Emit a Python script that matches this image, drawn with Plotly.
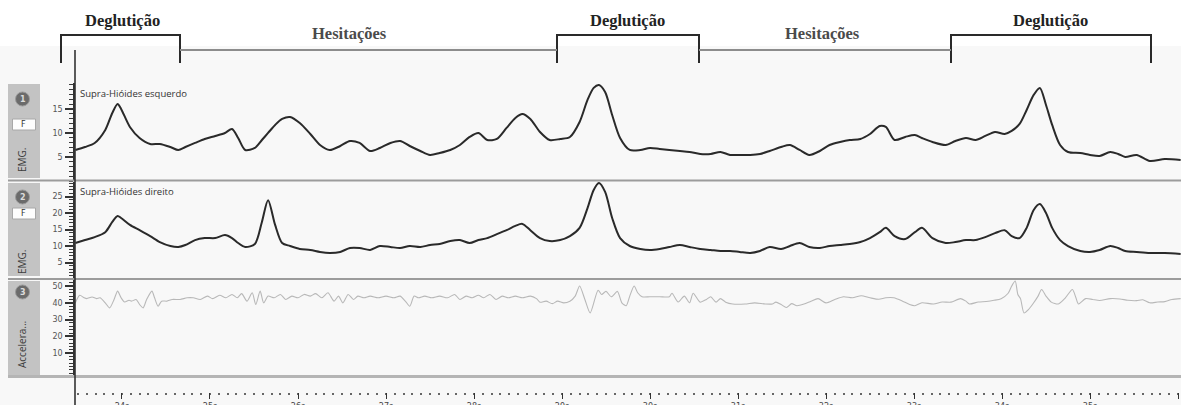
import plotly.graph_objects as go

# ---- data -------------------------------------------------------------
# time base shared by both EMG channels (seconds)
t_emg = [
    23.47, 23.58, 23.69, 23.81, 23.89, 23.95, 23.99, 24.09, 24.20, 24.32,
    24.43, 24.55, 24.64, 24.72, 24.83, 24.94, 25.06, 25.17, 25.25, 25.32,
    25.40, 25.51, 25.59, 25.66, 25.74, 25.82, 25.91, 26.02, 26.14, 26.25,
    26.36, 26.48, 26.59, 26.70, 26.82, 26.93, 27.05, 27.16, 27.27, 27.39,
    27.50, 27.61, 27.73, 27.84, 27.95, 28.05, 28.15, 28.26, 28.37, 28.47,
    28.55, 28.64, 28.75, 28.86, 28.98, 29.09, 29.20, 29.29, 29.36, 29.42,
    29.49, 29.57, 29.66, 29.77, 29.89, 30.00, 30.11, 30.22, 30.34, 30.45,
    30.57, 30.69, 30.80, 30.91, 31.02, 31.14, 31.25, 31.36, 31.49, 31.59,
    31.70, 31.81, 31.93, 32.04, 32.16, 32.27, 32.39, 32.50, 32.61, 32.68,
    32.78, 32.90, 33.01, 33.09, 33.21, 33.36, 33.47, 33.59, 33.70, 33.81,
    33.92, 34.03, 34.11, 34.20, 34.28, 34.36, 34.43, 34.50, 34.57, 34.66,
    34.75, 34.89, 35.00, 35.11, 35.23, 35.32, 35.40, 35.53, 35.68, 35.85,
    36.03,
]

# Supra-Hióides esquerdo (channel 1)
emg_left = [
    6.46, 7.08, 7.92, 10.63, 14.17, 16.04, 15.0, 11.25, 8.96, 7.71,
    7.71, 7.08, 6.46, 7.08, 7.92, 8.75, 9.38, 10.0, 10.83, 8.96,
    6.46, 6.88, 8.54, 10.0, 11.67, 12.92, 13.33, 12.08, 9.79, 7.5,
    6.46, 7.29, 8.33, 7.92, 6.25, 6.88, 7.92, 8.33, 7.29, 6.25,
    5.42, 5.83, 6.46, 7.5, 9.17, 10.0, 8.54, 8.75, 11.04, 13.13,
    13.96, 12.92, 10.21, 8.54, 8.75, 9.17, 12.29, 16.88, 19.38, 20.0,
    18.54, 13.75, 8.96, 6.46, 6.46, 6.88, 6.67, 6.46, 6.25, 6.04,
    5.63, 5.63, 6.04, 5.42, 5.42, 5.42, 5.63, 6.25, 7.08, 7.5,
    6.46, 5.42, 6.25, 7.5, 8.13, 8.54, 8.75, 9.79, 11.46, 11.25,
    8.54, 9.17, 9.58, 8.96, 8.13, 7.5, 8.33, 8.96, 8.54, 9.38,
    10.21, 9.79, 10.42, 11.88, 14.79, 17.92, 19.38, 15.83, 11.67, 7.5,
    6.04, 5.83, 5.42, 5.21, 6.04, 5.63, 5.0, 5.42, 4.17, 4.58,
    4.38,
]

# Supra-Hióides direito (channel 2)
emg_right = [
    10.9, 11.8, 12.7, 14.2, 17.3, 19.1, 18.5, 16.4, 14.8, 13.0,
    11.2, 10.0, 9.7, 10.3, 11.8, 12.4, 12.4, 13.3, 12.4, 10.9,
    9.7, 10.6, 17.3, 23.9, 16.4, 10.9, 10.0, 9.1, 8.8, 8.2,
    7.9, 8.2, 9.4, 9.4, 8.8, 10.0, 9.7, 9.4, 10.0, 9.7,
    10.3, 10.6, 11.5, 11.8, 10.9, 11.8, 12.4, 13.6, 14.8, 16.1,
    16.7, 14.8, 12.4, 11.5, 11.8, 13.0, 15.5, 21.5, 27.0, 29.1,
    26.4, 18.5, 12.4, 10.0, 9.1, 8.8, 9.1, 9.7, 10.3, 9.7,
    9.1, 8.8, 8.5, 8.5, 8.2, 7.9, 8.5, 9.7, 9.1, 10.0,
    10.9, 9.7, 9.4, 10.0, 10.3, 10.6, 11.2, 12.4, 14.2, 15.5,
    13.0, 12.1, 14.2, 15.5, 12.4, 10.9, 11.2, 11.8, 11.8, 12.7,
    13.9, 14.8, 13.0, 12.4, 15.5, 20.9, 22.7, 20.0, 15.5, 11.8,
    10.0, 8.5, 8.2, 8.8, 10.0, 9.4, 8.5, 8.2, 7.9, 7.9,
    7.6,
]

# accelerometer channel (seconds, amplitude)
t_acc = [
    23.47, 23.52, 23.57, 23.60, 23.66, 23.71, 23.75, 23.81, 23.86, 23.91,
    23.95, 23.99, 24.03, 24.08, 24.11, 24.16, 24.20, 24.24, 24.28, 24.34,
    24.37, 24.41, 24.45, 24.51, 24.57, 24.66, 24.74, 24.81, 24.89, 24.97,
    25.03, 25.11, 25.18, 25.25, 25.31, 25.36, 25.42, 25.48, 25.52, 25.57,
    25.61, 25.66, 25.73, 25.80, 25.86, 25.93, 26.00, 26.07, 26.14, 26.20,
    26.27, 26.34, 26.41, 26.46, 26.51, 26.57, 26.63, 26.68, 26.75, 26.82,
    26.91, 27.00, 27.09, 27.16, 27.22, 27.27, 27.32, 27.37, 27.44, 27.52,
    27.61, 27.70, 27.78, 27.84, 27.91, 27.98, 28.05, 28.11, 28.18, 28.25,
    28.32, 28.39, 28.47, 28.55, 28.64, 28.71, 28.75, 28.82, 28.89, 28.95,
    29.02, 29.09, 29.15, 29.20, 29.26, 29.32, 29.41, 29.45, 29.50, 29.56,
    29.63, 29.68, 29.73, 29.77, 29.82, 29.86, 29.91, 30.00, 30.11, 30.22,
    30.25, 30.32, 30.39, 30.45, 30.49, 30.57, 30.64, 30.69, 30.75, 30.80,
    30.86, 30.94, 31.08, 31.19, 31.31, 31.39, 31.43, 31.49, 31.55, 31.61,
    31.67, 31.75, 31.83, 31.91, 32.00, 32.10, 32.20, 32.30, 32.40, 32.50,
    32.60, 32.68, 32.77, 32.87, 32.95, 33.01, 33.09, 33.22, 33.32, 33.42,
    33.53, 33.59, 33.63, 33.73, 33.82, 33.91, 33.99, 34.07, 34.11, 34.15,
    34.18, 34.21, 34.25, 34.30, 34.35, 34.41, 34.45, 34.50, 34.56, 34.64,
    34.72, 34.80, 34.84, 34.87, 34.95, 35.03, 35.11, 35.23, 35.34, 35.43,
    35.53, 35.60, 35.68, 35.77, 35.85, 35.93, 36.03,
]
acc = [
    40, 44.5, 43, 42.5, 43.5, 42.5, 43, 40, 37, 42,
    47, 43, 40.5, 41.5, 41, 42, 39, 37, 42, 47,
    43, 38, 41, 41, 42, 42, 43, 43, 42, 44,
    42.5, 44.5, 43, 45, 43, 45.5, 41, 46, 39, 47,
    40, 44, 43, 45, 42, 44, 43, 45, 44, 45.5,
    43, 46, 41, 44, 40, 45, 42, 44, 43, 44,
    43, 44, 43, 44, 41, 38, 44, 43, 44, 43,
    44, 43, 45, 42, 44, 43, 44.5, 43, 45, 42,
    44, 43, 44, 43, 44, 42.5, 40.4, 41, 39.5, 41,
    40, 41, 44, 50, 42, 34, 47.5, 45, 46.8, 43.6,
    46.8, 40, 38.3, 44, 50, 46, 43.6, 43.6, 43.6, 43.6,
    45.7, 40.5, 44, 40, 45.7, 40.4, 42, 43.6, 40.4, 42.5,
    40.4, 39.3, 39.3, 40, 39.3, 39.3, 40.4, 39, 37.2, 39.5,
    38.3, 39.3, 41, 42.5, 40, 42, 43.6, 43, 44.2, 43,
    42.1, 43, 43, 41, 39, 38.3, 40, 39.3, 40.5, 40.4,
    42.5, 41, 39.3, 40.5, 40.8, 41.5, 42.5, 45.7, 50, 53,
    45, 42.5, 34, 36, 39.3, 44, 47.9, 44, 40.4, 39.3,
    43, 47.9, 43, 39.3, 42.5, 42, 41.4, 42.5, 42.3, 41.5,
    41.3, 41.8, 40, 40.5, 40.7, 42, 42.5,
]

tick_seconds = list(range(24, 37))
tick_labels = [f"{s}s" for s in tick_seconds]

left_ticks = [5, 10, 15]
right_ticks = [5, 10, 15, 20, 25]
acc_ticks = [10, 20, 30, 40, 50]

channel_names = ["Supra-Hióides esquerdo", "Supra-Hióides direito"]
channel_types = ["EMG.", "EMG.", "Accelera..."]

# ---- geometry helpers (pixel -> paper) ---------------------------------
W, H = 1181, 405


def fx(x):
    return x / W


def fy(y):
    return 1 - y / H


fig = go.Figure()

fig.add_trace(go.Scatter(
    x=t_emg, y=emg_left, mode="lines", xaxis="x", yaxis="y", hoverinfo="skip",
    line=dict(color="#2a2a2a", width=2, shape="spline", smoothing=0.8)))
fig.add_trace(go.Scatter(
    x=t_emg, y=emg_right, mode="lines", xaxis="x", yaxis="y2", hoverinfo="skip",
    line=dict(color="#2a2a2a", width=2, shape="spline", smoothing=0.8)))
fig.add_trace(go.Scatter(
    x=t_acc, y=acc, mode="lines", xaxis="x", yaxis="y3", hoverinfo="skip",
    line=dict(color="#b8b8b8", width=1.1, shape="spline", smoothing=0.7)))

tick_font = dict(family="DejaVu Sans", size=8, color="#555")


def y_axis(dom_top, dom_bottom, rng, vals, minor_step):
    return dict(
        domain=[fy(dom_bottom), fy(dom_top)], range=rng,
        anchor="x", side="left", automargin=False,
        showline=True, linecolor="#333", linewidth=1.6,
        showgrid=False, zeroline=False,
        tickmode="array", tickvals=vals,
        ticks="outside", ticklen=8, tickwidth=1.5, tickcolor="#333",
        tickfont=tick_font, ticklabelstandoff=1,
        minor=dict(tickmode="linear", dtick=minor_step, tick0=0,
                   ticks="outside", ticklen=4.5, tickwidth=1.4,
                   tickcolor="#3a3a3a", showgrid=False),
        fixedrange=True,
    )


fig.update_layout(
    width=W, height=H,
    margin=dict(l=0, r=0, t=0, b=0, autoexpand=False),
    paper_bgcolor="white", plot_bgcolor="rgba(0,0,0,0)",
    showlegend=False,
    xaxis=dict(
        domain=[fx(75), 1], range=[23.466, 36.034],
        anchor="free", position=fy(392), automargin=False,
        showline=False, showgrid=False, zeroline=False,
        tickmode="array", tickvals=tick_seconds, ticktext=tick_labels,
        ticks="outside", ticklen=6, tickwidth=1.4, tickcolor="#333",
        tickfont=dict(family="DejaVu Sans", size=8, color="#444"),
        ticklabelstandoff=0,
        minor=dict(dtick=0.1, tick0=24, ticks="outside", ticklen=2,
                   tickwidth=2, tickcolor="#666", showgrid=False),
        fixedrange=True,
    ),
    yaxis=y_axis(83, 181, [0, 20.4], left_ticks, 1),
    yaxis2=y_axis(182, 279, [0, 29.4], right_ticks, 1),
    yaxis3=y_axis(280, 376, [-3.6, 53.6], acc_ticks, 2),
)

shapes = []
# light canvas below the title area
shapes.append(dict(type="rect", xref="paper", yref="paper", layer="below",
                   x0=0, x1=1, y0=0, y1=fy(46), line=dict(width=0),
                   fillcolor="#f8f8f8"))
# left channel strip
for top, bottom in [(84, 178), (183, 276), (281, 375)]:
    shapes.append(dict(type="rect", xref="paper", yref="paper", layer="below",
                       x0=fx(8), x1=fx(40), y0=fy(bottom), y1=fy(top),
                       line=dict(width=0), fillcolor="#c3c3c3"))
# channel number badges
for cy in [99, 197, 292]:
    shapes.append(dict(type="circle", xref="paper", yref="paper",
                       x0=fx(15.5), x1=fx(29.5), y0=fy(cy + 7), y1=fy(cy - 7),
                       line=dict(color="#9a9a9a", width=1), fillcolor="#6b6b6b"))
# filter buttons
for top in [119, 208]:
    shapes.append(dict(type="rect", xref="paper", yref="paper",
                       x0=fx(12.5), x1=fx(35.5), y0=fy(top + 11), y1=fy(top),
                       line=dict(color="#a8a8a8", width=1), fillcolor="#fdfdfd"))
# panel separators
for y, col, w in [(180.5, "#9c9c9c", 2), (279, "#9c9c9c", 2), (376.5, "#b5b5b5", 3)]:
    shapes.append(dict(type="line", xref="paper", yref="paper",
                       x0=fx(8), x1=1, y0=fy(y), y1=fy(y),
                       line=dict(color=col, width=w)))
# vertical axis spine, continued above and below the panels
shapes.append(dict(type="line", xref="paper", yref="paper",
                   x0=fx(75), x1=fx(75), y0=0, y1=fy(50),
                   line=dict(color="#333", width=1.6)))

# swallow / hesitation brackets
phases = [(61, 180), (557, 699), (951, 1151)]
for x0, x1 in phases:
    path = (f"M {fx(x0)},{fy(63)} L {fx(x0)},{fy(35)} "
            f"L {fx(x1)},{fy(35)} L {fx(x1)},{fy(63)}")
    shapes.append(dict(type="path", xref="paper", yref="paper", path=path,
                       line=dict(color="#2a2a2a", width=2)))
for x0, x1 in [(180, 557), (699, 951)]:
    shapes.append(dict(type="line", xref="paper", yref="paper",
                       x0=fx(x0), x1=fx(x1), y0=fy(50), y1=fy(50),
                       line=dict(color="#8c8c8c", width=2)))

fig.update_layout(shapes=shapes)

ann = []
serif = "Liberation Serif"
for cx in [122, 627, 1050]:
    ann.append(dict(x=fx(cx), y=fy(20), text="<b>Deglutição</b>",
                    font=dict(family=serif, size=16.5, color="#222")))
for cx in [349, 822]:
    ann.append(dict(x=fx(cx), y=fy(33), text="<b>Hesitações</b>",
                    font=dict(family=serif, size=16.5, color="#4a4a4a")))
for i, cy in enumerate([99, 197, 292]):
    ann.append(dict(x=fx(22.5), y=fy(cy), text=f"<b>{i + 1}</b>",
                    font=dict(family="DejaVu Sans", size=8, color="#dcdcdc")))
for top in [119, 208]:
    ann.append(dict(x=fx(24), y=fy(top + 5.5), text="F",
                    font=dict(family="DejaVu Sans", size=8, color="#333")))
for label, cy in zip(channel_types, [160, 262, 345]):
    ann.append(dict(x=fx(22), y=fy(cy), text=label, textangle=-90,
                    font=dict(family="Open Sans", size=10, color="#3c3c3c")))
for label, cy in zip(channel_names, [94, 191]):
    ann.append(dict(x=fx(78), y=fy(cy), text=label, xanchor="left",
                    font=dict(family="Open Sans", size=9.5, color="#333")))

for a in ann:
    a.update(xref="paper", yref="paper", showarrow=False)
    a.setdefault("xanchor", "center")
    a.setdefault("yanchor", "middle")
fig.update_layout(annotations=ann)

fig.write_html("out.html")
